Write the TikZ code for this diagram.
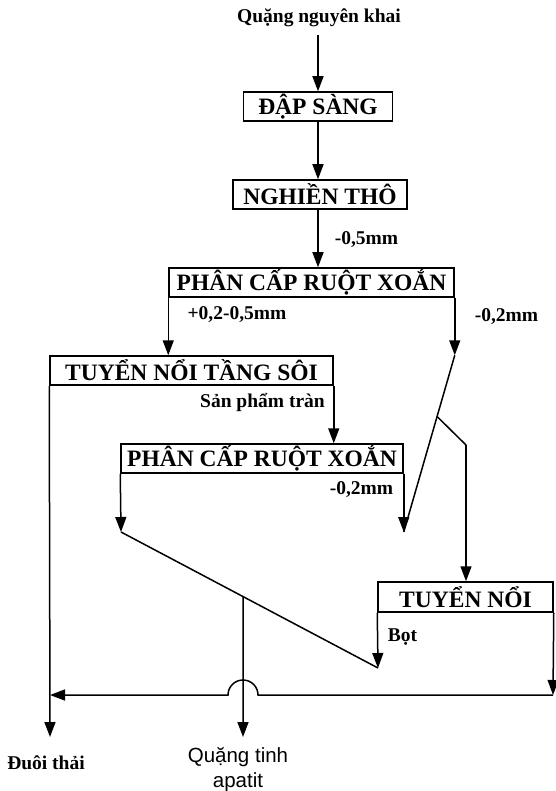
\documentclass[tikz,border=0pt]{standalone}
\usepackage{fontspec}
\setmainfont{Liberation Serif}
\newfontfamily\arialf{Liberation Sans}
\usetikzlibrary{arrows.meta,calc}
\begin{document}
\begin{tikzpicture}[x=1pt,y=-1pt,
  boxn/.style={draw,line width=1.5pt,inner sep=0pt,font=\bfseries\fontsize{23.5}{27}\selectfont},
  lbl/.style={font=\bfseries\fontsize{19.5}{23}\selectfont,inner sep=0pt},
  ln/.style={line width=1.5pt},
  arr/.style={ln,-{Triangle[width=11pt,length=15pt]}}]
\useasboundingbox[fill=white] (0,0) rectangle (555,791);
% boxes
\node[boxn,minimum width=149pt,minimum height=29pt] (dap) at (318,106.5) {ĐẬP SÀNG};
\node[boxn,minimum width=174pt,minimum height=29pt] (nghien) at (320,194.5) {NGHIỀN THÔ};
\node[boxn,minimum width=285pt,minimum height=29pt] (pc1) at (311.5,282.5) {PHÂN CẤP RUỘT XOẮN};
\node[boxn,minimum width=283pt,minimum height=29pt] (tnts) at (191.5,370.5) {TUYỂN NỔI TẦNG SÔI};
\node[boxn,minimum width=282pt,minimum height=29pt] (pc2) at (262,458.5) {PHÂN CẤP RUỘT XOẮN};
\node[boxn,minimum width=175pt,minimum height=30pt] (tn) at (465.5,597) {TUYỂN NỔI};
% texts
\node[lbl] (title) at (319,18) {Quặng nguyên khai};
\node[lbl] (l05) at (366.5,240) {-0,5mm};
\node[lbl] (l0205) at (237,315) {+0,2-0,5mm};
\node[lbl] (l02a) at (506.5,317) {-0,2mm};
\node[lbl,anchor=east] (lsp) at (325,402) {Sản phẩm tràn};
\node[lbl] (l02b) at (361.5,490) {-0,2mm};
\node[lbl] (lbot) at (402.5,637) {Bọt};
\node[lbl] (ldt) at (46,763) {Đuôi thải};
\node[inner sep=0pt,align=center,font=\arialf\fontsize{20.5}{25}\selectfont] (lqt) at (238,769.5) {Quặng tinh\\apatit};
% coordinates
\coordinate (t0) at (318,35);
\coordinate (r1) at (pc1.south east |- tnts.north);
\coordinate (m1) at (121,532);
\coordinate (m2) at (pc2.south east |- m1);
\coordinate (b1) at ($(r1)!0.3466!(m2)$);
\coordinate (b2) at (466,445);
\coordinate (m3) at (378,668);
\coordinate (jn) at ($(m1)!0.4747!(m3)$);
\coordinate (ct) at (243,737);
\coordinate (cr) at (553,695);
\coordinate (cl) at (50,695);
\coordinate (wt) at (50,737);
% connectors
\draw[arr] (t0) -- (dap.north);
\draw[arr] (dap.south) -- (dap.south |- nghien.north);
\draw[arr] (nghien.south -| dap.south) -- (dap.south |- pc1.north);
\draw[arr] (pc1.south west) -- (pc1.south west |- tnts.north);
\draw[arr] (pc1.south east) -- (r1);
\draw[ln] (r1) -- (m2);
\draw[ln] (b1) -- (b2);
\draw[arr] (b2) -- (b2 |- tn.north);
\draw[arr] (tnts.south east) -- (tnts.south east |- pc2.north);
\draw[arr] (tnts.south west) -- (wt);
\draw[arr] (pc2.south west) -- (m1);
\draw[arr] (pc2.south east) -- (m2);
\draw[ln] (m1) -- (m3);
\draw[arr] (jn) -- (ct);
\draw[arr] (tn.south west) -- (m3);
\draw[arr] (tn.south east) -- (cr);
\draw[arr] (cr) -- (258,695) arc[start angle=0,end angle=180,radius=15pt] -- (cl);
\end{tikzpicture}
\end{document}
